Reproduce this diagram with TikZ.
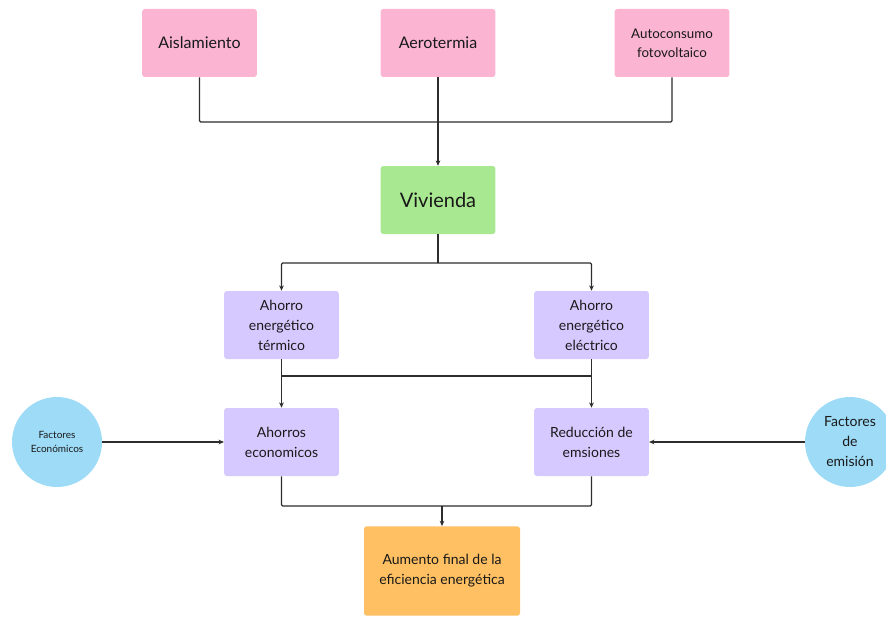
\documentclass[tikz,border=0pt]{standalone}
\usepackage{fontspec}
\setmainfont{Lato}
\usetikzlibrary{arrows.meta, positioning, calc}
\definecolor{boxpink}{RGB}{251,180,210}
\definecolor{boxgreen}{RGB}{168,232,144}
\definecolor{boxlilac}{RGB}{214,201,255}
\definecolor{boxsky}{RGB}{158,219,247}
\definecolor{boxorange}{RGB}{254,192,98}
\definecolor{linegray}{RGB}{45,45,45}
\definecolor{textgray}{RGB}{25,25,25}

\begin{document}
\begin{tikzpicture}[x=0.75pt, y=-0.75pt,
  card/.style={rounded corners=2pt, minimum width=86pt, minimum height=51pt, align=center, inner sep=2pt, text=textgray},
  round/.style={circle, fill=boxsky, minimum size=67.5pt, inner sep=1pt, align=center, text=textgray},
  link/.style={draw=linegray, line width=0.9pt, rounded corners=1pt},
  arr/.style={link, -{Stealth[length=4pt, width=3.5pt]}}]
  \useasboundingbox (0,0) rectangle (886,617);

  % Measures
  \node[card, fill=boxpink, font=\fontsize{12}{14}\selectfont] (aisl) at (199.5,43) {Aislamiento};
  \node[card, fill=boxpink, font=\fontsize{12}{14}\selectfont] (aero) at (438,43) {Aerotermia};
  \node[card, fill=boxpink, font=\fontsize{10}{14.5}\selectfont] (auto) at (672,43) {Autoconsumo\\fotovoltaico};

  % Home
  \node[card, fill=boxgreen, font=\fontsize{15}{18}\selectfont] (viv) at (438,200) {Vivienda};

  % Savings
  \node[card, fill=boxlilac, font=\fontsize{10.5}{15}\selectfont] (term) at (281.5,325) {Ahorro\\energético\\térmico};
  \node[card, fill=boxlilac, font=\fontsize{10.5}{15}\selectfont] (elec) at (591.5,325) {Ahorro\\energético\\eléctrico};
  \node[card, fill=boxlilac, font=\fontsize{10.5}{15}\selectfont] (ahor) at (281.5,442) {Ahorros\\economicos};
  \node[card, fill=boxlilac, font=\fontsize{10.5}{15}\selectfont] (red) at (591.5,442) {Reducción de\\emsiones};

  % Factors
  \node[round, font=\fontsize{7.5}{11}\selectfont] (feco) at (57,442) {Factores\\Económicos};
  \node[round, font=\fontsize{10.5}{15}\selectfont] (femi) at (850,442) {Factores\\de\\emisión};

  % Result
  \node[card, fill=boxorange, minimum width=117pt, minimum height=67pt, font=\fontsize{10.5}{15}\selectfont] (aum) at (442,571) {Aumento final de la\\eficiencia energética};

  % Connectors
  \coordinate (join) at (438,122);
  \coordinate (split) at (438,263);
  \coordinate (cross) at (0,376);
  \coordinate (merge) at (442,506);

  \draw[link] (aisl.south) |- (join);
  \draw[link] (auto.south) |- (join);
  \draw[arr] (aero.south) -- (viv.north);

  \draw[link] (viv.south) -- (split);
  \draw[arr] (split) -| (term.north);
  \draw[arr] (split) -| (elec.north);

  \draw[arr] (term.south) -- (ahor.north);
  \draw[arr] (elec.south) -- (red.north);
  \draw[link] (term.south |- cross) -- (elec.south |- cross);

  \draw[arr] (feco) -- (ahor);
  \draw[arr] (femi) -- (red);

  \draw[link] (ahor.south) |- (merge) -| (red.south);
  \draw[arr] (merge) -- (aum.north);
\end{tikzpicture}
\end{document}
